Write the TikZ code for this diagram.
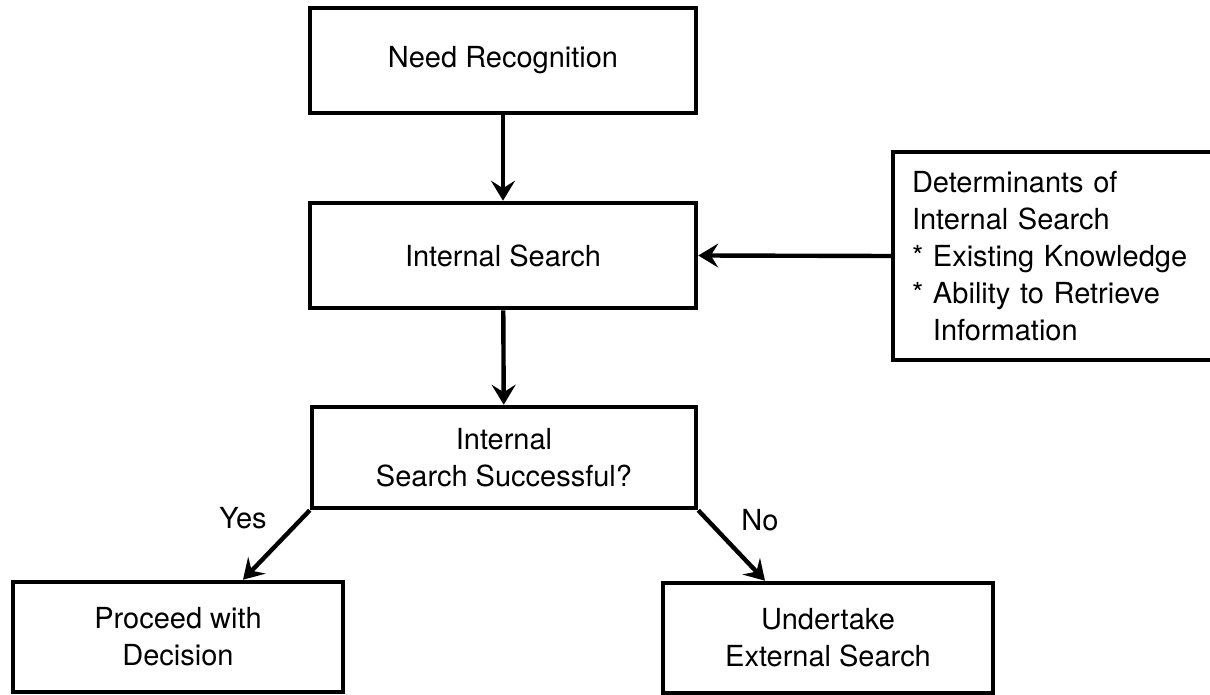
\documentclass[tikz,border=0pt]{standalone}
\usepackage{fontspec}
\setmainfont{TeX Gyre Heros}
\usetikzlibrary{arrows.meta}

\begin{document}
\begin{tikzpicture}[x=0.02cm, y=-0.02cm,
    font=\fontsize{16.5}{21}\selectfont,
    stepbox/.style={draw, line width=2.6pt, align=center, inner sep=0pt},
    flow/.style={-{Stealth[length=0.4cm, width=0.48cm, inset=0.15cm]}, line width=2.5pt}]
  \useasboundingbox (0,0) rectangle (1210,695);

  % Main chain
  \node[stepbox, minimum width=7.72cm, minimum height=2.1cm] (need) at (503,60.5) {Need Recognition};
  \node[stepbox, minimum width=7.72cm, minimum height=2.1cm] (intsearch) at (503,255.5) {Internal Search};
  \node[stepbox, minimum width=7.68cm, minimum height=2.02cm] (success) at (504,457.5) {Internal\\Search Successful?};

  % Outcomes
  \node[stepbox, minimum width=6.6cm, minimum height=2.2cm] (proceed) at (178,637) {Proceed with\\Decision};
  \node[stepbox, minimum width=6.6cm, minimum height=2.2cm] (external) at (828,638) {Undertake\\External Search};

  % Determinants
  \node[stepbox, align=left, inner xsep=0.38cm, text width=5.66cm, minimum height=4.16cm] (determ) at (1053.5,256)
    {Determinants of\\Internal Search\\{*} Existing Knowledge\\{*} Ability to Retrieve\\\hphantom{*}\ Information};

  % Arrows
  \draw[flow] (need) -- (intsearch);
  \draw[flow] (intsearch) -- (success);
  \draw[flow] (determ.west) -- (intsearch.east);
  \draw[flow] (success.south west) -- ([xshift=1.3cm]proceed.north);
  \draw[flow] (success.south east) -- ([xshift=-1.26cm]external.north);

  % Branch labels
  \node (yes) at (243,518) {Yes};
  \node (no) at (760,520) {No};
\end{tikzpicture}
\end{document}
